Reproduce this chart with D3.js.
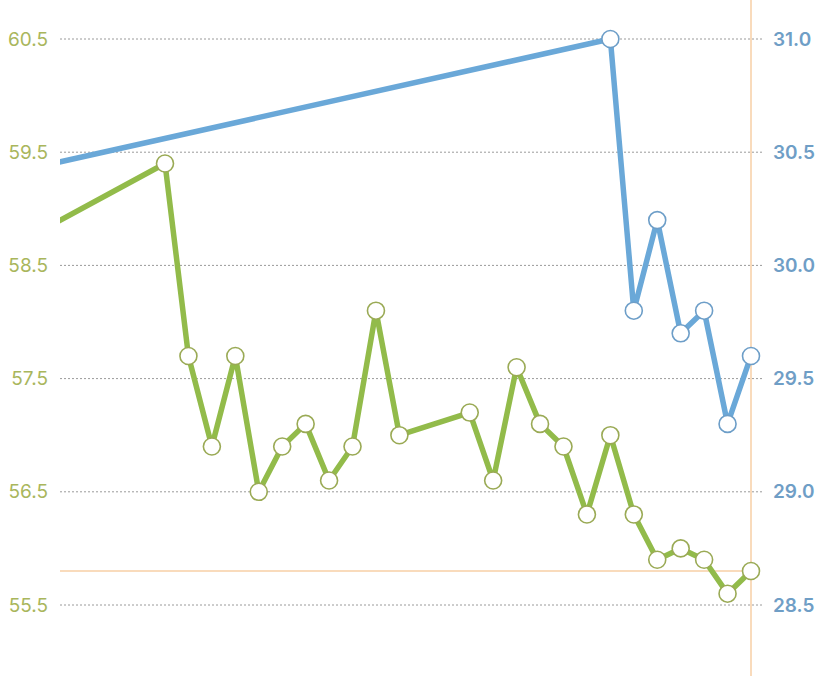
<!DOCTYPE html>
<html><head><meta charset="utf-8">
<script src="https://cdn.jsdelivr.net/npm/d3@7"></script>
<style>html,body{margin:0;padding:0;background:#fff;overflow:hidden}</style>
</head><body>
<svg id="c" width="828" height="676"></svg>
<script>
// x index (day) and values
const greenDays = [-5,0,1,2,3,4,5,6,7,8,9,10,13,14,15,16,17,18,19,20,21,22,23,24,25];
const greenVals = [58.84,59.4,57.7,56.9,57.7,56.5,56.9,57.1,56.6,56.9,58.1,57.0,57.2,56.6,57.6,57.1,56.9,56.3,57.0,56.3,55.9,56.0,55.9,55.6,55.8];
const blueDays = [-10,19,20,21,22,23,24,25];
const blueVals = [30.33,31.0,29.8,30.2,29.7,29.8,29.3,29.6];
const leftTicks = [55.5,56.5,57.5,58.5,59.5,60.5];
const rightTicks = [28.5,29.0,29.5,30.0,30.5,31.0];
const crossDay = 25, crossVal = 55.8;

const svg = d3.select("#c");
const plotL = 60, plotR = 762;
const x = d3.scaleLinear().domain([0,25]).range([165,751]);
const yL = d3.scaleLinear().domain([55.5,60.5]).range([605,39]);
const yR = d3.scaleLinear().domain([28.5,31.0]).range([605,39]);

svg.append("defs").append("clipPath").attr("id","clip")
  .append("rect").attr("x",plotL).attr("y",0).attr("width",plotR-plotL).attr("height",676);

// gridlines
svg.append("g").selectAll("line").data(leftTicks).join("line")
  .attr("x1",plotL).attr("x2",plotR)
  .attr("y1",d=>yL(d)).attr("y2",d=>yL(d))
  .attr("stroke","#9a9a9a").attr("stroke-width",1).attr("stroke-dasharray","2,2");

// left axis labels
const axL = d3.axisLeft(yL).tickValues(leftTicks).tickFormat(d3.format(".1f")).tickSize(0).tickPadding(0);
const gL = svg.append("g").attr("transform","translate(48,0)").call(axL);
gL.select(".domain").remove();
gL.selectAll("text").attr("fill","#a9b65c").attr("font-family","Inter, 'Open Sans', sans-serif").attr("font-size",19).attr("font-weight",400);

// right axis labels
const axR = d3.axisRight(yR).tickValues(rightTicks).tickFormat(d3.format(".1f")).tickSize(0).tickPadding(0);
const gR = svg.append("g").attr("transform","translate(773,0)").call(axR);
gR.select(".domain").remove();
gR.selectAll("text").attr("fill","#6f9ec6").attr("font-family","Inter, 'Open Sans', sans-serif").attr("font-size",19).attr("font-weight",600);

// crosshair
svg.append("line").attr("x1",x(crossDay)).attr("x2",x(crossDay)).attr("y1",0).attr("y2",676)
  .attr("stroke","#f7cfa6").attr("stroke-width",1.5);
svg.append("line").attr("x1",plotL).attr("x2",x(crossDay)).attr("y1",yL(crossVal)).attr("y2",yL(crossVal))
  .attr("stroke","#f7cfa6").attr("stroke-width",1.5);

const g = svg.append("g").attr("clip-path","url(#clip)");
const gData = greenDays.map((d,i)=>[d,greenVals[i]]);
const bData = blueDays.map((d,i)=>[d,blueVals[i]]);

g.append("path").datum(bData)
  .attr("d",d3.line().x(d=>x(d[0])).y(d=>yR(d[1])))
  .attr("fill","none").attr("stroke","#6aa8d8").attr("stroke-width",5.5).attr("stroke-linejoin","round");
g.append("path").datum(gData)
  .attr("d",d3.line().x(d=>x(d[0])).y(d=>yL(d[1])))
  .attr("fill","none").attr("stroke","#92bb4a").attr("stroke-width",5.5).attr("stroke-linejoin","round");

svg.append("g").selectAll("circle").data(gData.filter(d=>d[0]>=0)).join("circle")
  .attr("cx",d=>x(d[0])).attr("cy",d=>yL(d[1])).attr("r",8.5)
  .attr("fill","#fff").attr("stroke","#9aaa55").attr("stroke-width",1.6);
svg.append("g").selectAll("circle").data(bData.filter(d=>d[0]>=0)).join("circle")
  .attr("cx",d=>x(d[0])).attr("cy",d=>yR(d[1])).attr("r",8.5)
  .attr("fill","#fff").attr("stroke","#6d9ec8").attr("stroke-width",1.6);
</script>
</body></html>
